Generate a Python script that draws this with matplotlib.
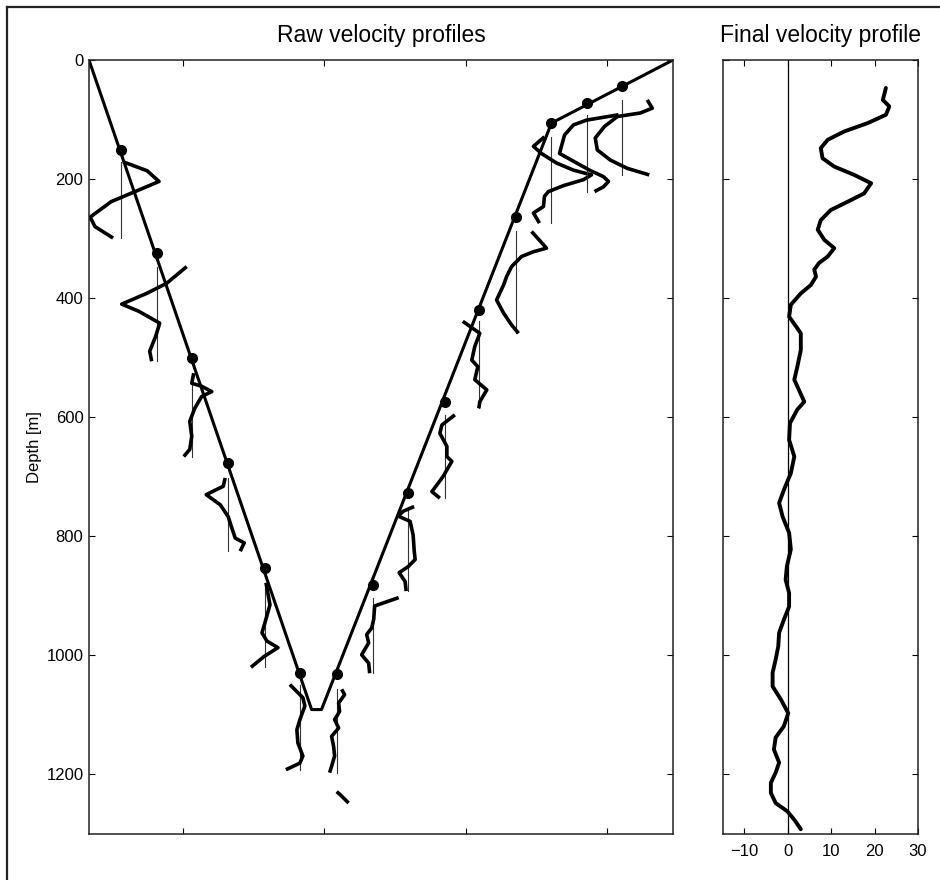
import numpy as np
import matplotlib
matplotlib.use("Agg")
import matplotlib.pyplot as plt
from matplotlib.lines import Line2D

plt.rcParams['font.family'] = ['Liberation Sans', 'DejaVu Sans']

nan = np.nan

# instrument path (time axis in arbitrary units, depth in m)
cast_time = [-0.665, 0.910, 0.980, 2.607, 3.467]
cast_depth = [0, 1091, 1091, 106, 0]

# ensemble positions (dots)
dot_time = [-0.438, -0.186, 0.062, 0.320, 0.580, 0.827,
            1.087, 1.342, 1.593, 1.853, 2.093, 2.353, 2.607, 2.855, 3.108]
dot_depth = [151, 324, 501, 677, 854, 1029,
             1032, 881, 727, 574, 420, 263, 106, 73, 44]

# raw velocity profile of each ensemble (depth [m], velocity offset [cm/s])
profile_depths = [
    [171, 186, 204, 221, 238, 264, 280, 299],
    [347, 375, 392, 410, 422, 442, 464, 489, 506],
    [526, 543, 548, 557, 565, 585, 607, 632, 654, 666],
    [702, 716, 730, 747, 767, 783, 803, 811, 825],
    [878, 915, 945, 962, 976, 987, 1002, 1020],
    [1049, 1071, 1085, 1108, 1125, 1147, 1169, 1181, 1192],
    [1057, 1066, 1080, 1094, 1108, 1122, 1136, 1153, 1169, 1186, 1197],
    [903, 917, 940, 954, 965, 979, 999, 1013, 1030],
    [750, 758, 766, 775, 798, 823, 839, 851, 861, 876, 892],
    [596, 613, 627, 649, 666, 674, 700, 725, 736],
    [439, 459, 481, 504, 515, 537, 554, 574, 585],
    [288, 316, 322, 330, 347, 364, 378, 403, 425, 445, 459],
    [129, 145, 157, 173, 185, 193, 201, 211, 221, 229, 246, 257, 274],
    [92, 101, 109, 126, 157, 171, 185, 196, 204, 213, 221],
    [67, 81, 89, 95, 112, 131, 151, 168, 182, 193],
]
profile_vels = [
    [1, 13, 19, 7, -5, -15.5, -13, -4],
    [15, 5, -5, -17.5, -9, 1.5, -0.5, -3.5, -2.5],
    [1, 0, 5, 10, 5, 1.5, -1, 0, -1, -4],
    [-1.5, -2.5, -11, -4, 0, 1.5, 3.5, 8, 6],
    [0.5, 2.5, 0, -1.5, 1, 6.5, -0.5, -7],
    [-5, 1.5, 2.5, 0, -1.5, -1, 1.5, 0, -7],
    [2.5, 4, 1, 1.5, -1, 1, -2.5, -1.5, -1, -2.5, -3.5],
    [13, 1, 0.5, -0.5, -3, -2, -5.5, -2, -1.5],
    [3, -2.5, -5, 1, 2.5, 3, 3.5, 0, -4.5, -1.5, -1],
    [5, -1.5, -2.5, 1, 1, 3.5, -1, -6.5, -2.5],
    [-8, 0.5, -2, -3.5, -0.5, -2, 4, 0.5, 0],
    [8, 15.5, 9, 3, -2, -4.5, -6, -9.5, -6, -2, 1.5],
    [-3.5, -9, -5, 2.5, 11, 20, 16, 6, -1.5, -3.5, -4, -9, -6],
    [16, 0, -6.5, -11, -13.5, -6, 1.5, 8.5, 11, 8.5, 4],
    [12.5, 15, 9, -2.5, -9, -13.5, -12.5, -6, 2.5, 13.5],
]

# stray bit below the first upcast profile
stray_index = 6
stray_depth = [1229, 1233, 1248]
stray_vel = [0, 1.5, 6]

# final (combined) velocity profile
final_depth = [47, 67, 78, 92, 106, 120, 134, 148, 165, 179, 193, 207, 224, 238,
               252, 269, 285, 302, 316, 330, 341, 352, 364, 378, 392, 411, 431,
               459, 487, 515, 537, 574, 587, 610, 638, 666, 694, 722, 744, 767,
               794, 822, 850, 873, 895, 918, 940, 962, 985, 1007, 1029, 1052,
               1074, 1097, 1119, 1138, 1158, 1180, 1197, 1214, 1231, 1248, 1262,
               1276, 1292]
final_vel = [22.6, 21.9, 23.4, 22.6, 18.4, 13.0, 9.2, 7.6, 8.0, 10.7, 15.3, 19.2,
             17.6, 13.8, 9.9, 7.6, 6.9, 8.4, 10.7, 9.2, 7.2, 6.1, 6.5, 5.3, 3.0,
             0.7, 0.3, 3.0, 3.0, 2.2, 1.5, 3.8, 2.2, 0.5, 0.3, 1.5, 0.7, -0.9,
             -2.0, -1.2, 0.3, 0.7, -0.2, -0.5, 0.3, 0.3, -0.9, -2.0, -2.2, -2.8,
             -3.5, -3.5, -1.6, 0.1, -0.9, -2.8, -3.2, -2.0, -2.8, -3.9, -3.9,
             -2.8, -0.1, 1.5, 3.0]

depth_ticks = [0, 200, 400, 600, 800, 1000, 1200]
vel_ticks = [-10, 0, 10, 20, 30]

vel_scale = 2 / 141.4   # time units per cm/s

fig = plt.figure(figsize=(9.4, 8.8), dpi=100)
ax = fig.add_axes([89 / 940, 1 - 834 / 880, 584 / 940, 774 / 880])
ax2 = fig.add_axes([722.7 / 940, 1 - 834 / 880, 195.3 / 940, 774 / 880])

# outer frame
fig.add_artist(Line2D([7 / 940, 1.0], [1 - 7 / 880, 1 - 7 / 880],
                      transform=fig.transFigure, color="#222222", lw=1.6))
fig.add_artist(Line2D([7 / 940, 7 / 940], [0.0, 1 - 7 / 880],
                      transform=fig.transFigure, color="#222222", lw=1.6))

# left panel
ax.plot(cast_time, cast_depth, color="black", lw=2.2, solid_joinstyle="round")
ax.plot(dot_time, dot_depth, "o", color="black", ms=7)

for i in range(len(dot_time)):
    d = np.array(profile_depths[i])
    v = np.array(profile_vels[i])
    ax.plot([dot_time[i], dot_time[i]], [d.min(), d.max()],
            color="#333333", lw=0.8)
    ax.plot(dot_time[i] + v * vel_scale, d, color="black", lw=2.6,
            solid_joinstyle="round", solid_capstyle="butt")

ax.plot(dot_time[stray_index] + np.array(stray_vel) * vel_scale, stray_depth,
        color="black", lw=2.6, solid_capstyle="butt")

ax.set_xlim(-0.665, 3.467)
ax.set_ylim(1300, 0)
ax.set_xticks([0, 1, 2, 3])
ax.set_yticks(depth_ticks)
ax.tick_params(direction="in", length=4.5, width=0.8, top=True, right=True,
               labelbottom=False, labelsize=12, pad=4)
ax.set_ylabel("Depth [m]", fontsize=12)
ax.yaxis.set_label_coords(-0.08, 0.5)
ax.set_title("Raw velocity profiles", fontsize=16.5, pad=13)

# right panel
ax2.axvline(0, color="black", lw=0.9)
ax2.plot(final_vel, final_depth, color="black", lw=2.8,
         solid_joinstyle="round", solid_capstyle="round")
ax2.set_xlim(-15, 30)
ax2.set_ylim(1300, 0)
ax2.set_xticks(vel_ticks)
ax2.set_yticks(depth_ticks)
ax2.tick_params(direction="in", length=4.5, width=0.8, top=True, right=True,
                labelleft=False, labelsize=12, pad=7)
ax2.set_title("Final velocity profile", fontsize=16.5, pad=13)

for a in (ax, ax2):
    for s in a.spines.values():
        s.set_linewidth(1.1)
        s.set_color("#222222")

fig.savefig("out.png", dpi=100)
